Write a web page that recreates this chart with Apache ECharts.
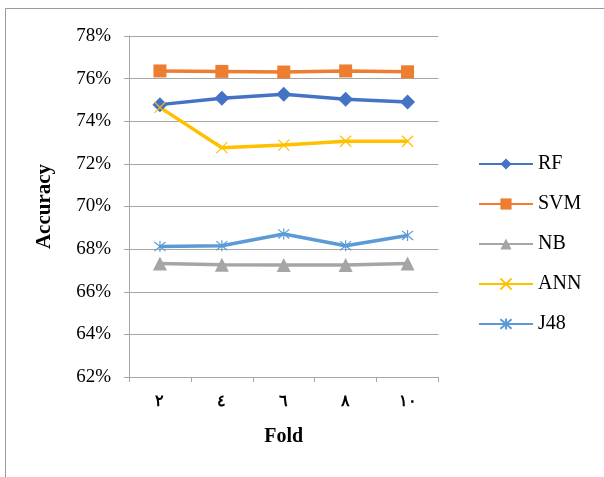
<!DOCTYPE html>
<html>
<head>
<meta charset="utf-8">
<script src="https://cdn.jsdelivr.net/npm/echarts@6/dist/echarts.min.js"></script>
<style>
  html, body { margin: 0; padding: 0; background: #fff; }
  #chart { width: 604px; height: 477px; }
</style>
</head>
<body>
<div id="chart"></div>
<script>
// Fold labels (Arabic-Indic digits) and accuracy per classifier, in percent
const folds = ['٢', '٤', '٦', '٨', '١٠'];
const rf  = [74.78, 75.08, 75.27, 75.03, 74.90];
const svm = [76.36, 76.34, 76.31, 76.36, 76.32];
const nb  = [67.33, 67.27, 67.25, 67.26, 67.33];
const ann = [74.65, 72.76, 72.88, 73.06, 73.06];
const j48 = [68.12, 68.16, 68.71, 68.16, 68.64];

const serif = '"Liberation Serif", "Times New Roman", serif';
const crossPath = 'path://M0,0L10,10M10,0L0,10';
const starPath = 'path://M0,0L10,10M10,0L0,10M5,-1L5,11';

function lineSeries(name, data, color, symbol, size, stroked) {
  return {
    name: name,
    type: 'line',
    data: data,
    symbol: symbol,
    symbolSize: size,
    showAllSymbol: true,
    lineStyle: { color: color, width: 3.5 },
    itemStyle: stroked
      ? { color: 'rgba(0,0,0,0)', borderColor: color, borderWidth: 1.2 }
      : { color: color, borderWidth: 0 },
    emphasis: { disabled: true },
    z: 3
  };
}

const chart = echarts.init(document.getElementById('chart'));
chart.setOption({
  animation: false,
  backgroundColor: '#fff',
  graphic: [{
    type: 'rect',
    shape: { x: 5.5, y: 8.5, width: 640, height: 520 },
    style: { fill: 'none', stroke: '#9a9a9a', lineWidth: 1 },
    silent: true
  }],
  grid: { left: 129, right: 165.5, top: 36, bottom: 100 },
  legend: {
    orient: 'vertical',
    left: 473,
    top: 149,
    padding: 5,
    itemWidth: 54,
    itemHeight: 14,
    itemGap: 20,
    textStyle: { color: '#000', fontFamily: serif, fontSize: 20 },
    data: ['RF', 'SVM', 'NB', 'ANN', 'J48']
  },
  xAxis: {
    type: 'category',
    data: folds,
    boundaryGap: true,
    name: 'Fold',
    nameLocation: 'middle',
    nameGap: 50,
    nameTextStyle: { color: '#000', fontFamily: serif, fontSize: 20, fontWeight: 'bold' },
    axisLine: { show: true, lineStyle: { color: '#a6a6a6', width: 1 } },
    axisTick: { show: true, length: 5, inside: false, alignWithLabel: false, lineStyle: { color: '#a6a6a6' } },
    axisLabel: { color: '#000', fontFamily: serif, fontSize: 16, fontWeight: 'bold', margin: 17 },
    splitLine: { show: false }
  },
  yAxis: {
    type: 'value',
    min: 62,
    max: 78,
    interval: 2,
    name: 'Accuracy',
    nameLocation: 'middle',
    nameGap: 74,
    nameRotate: 90,
    nameTextStyle: { color: '#000', fontFamily: serif, fontSize: 21, fontWeight: 'bold' },
    axisLine: { show: true, lineStyle: { color: '#a6a6a6', width: 1 } },
    axisTick: { show: true, length: 5, inside: false, lineStyle: { color: '#a6a6a6' } },
    axisLabel: { color: '#000', fontFamily: serif, fontSize: 19, margin: 18, formatter: '{value}%' },
    splitLine: { show: true, lineStyle: { color: '#a6a6a6', width: 1 } }
  },
  series: [
    lineSeries('RF', rf, '#4472C4', 'diamond', 15, false),
    lineSeries('SVM', svm, '#ED7D31', 'rect', 13, false),
    lineSeries('NB', nb, '#A5A5A5', 'triangle', 14, false),
    lineSeries('ANN', ann, '#FFC000', crossPath, 11, true),
    lineSeries('J48', j48, '#5B9BD5', starPath, 11, true)
  ]
});
</script>
</body>
</html>
